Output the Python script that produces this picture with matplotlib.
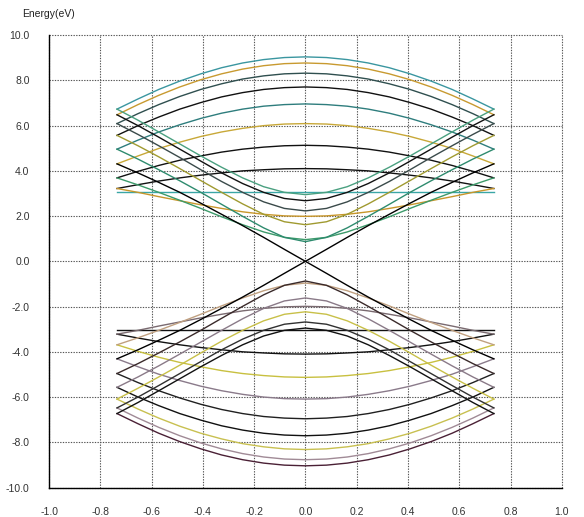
import matplotlib
matplotlib.use("Agg")
import matplotlib.pyplot as plt
import numpy as np

plt.rcParams['font.family'] = ['Liberation Sans', 'DejaVu Sans']
plt.rcParams['axes.unicode_minus'] = False

# wave-vector samples (half zone, mirrored for negative k)
K_HALF = [0.0, 0.082, 0.163, 0.245, 0.327, 0.408, 0.49, 0.572, 0.653, 0.735]

# conduction-band energies (eV) read at K_HALF, bands p = 1..17
BAND_01 = [9.04, 9.01, 8.92, 8.77, 8.56, 8.29, 7.97, 7.60, 7.18, 6.73]
BAND_02 = [8.77, 8.74, 8.65, 8.50, 8.29, 8.03, 7.71, 7.34, 6.93, 6.48]
BAND_03 = [8.32, 8.29, 8.20, 8.06, 7.85, 7.60, 7.29, 6.93, 6.53, 6.09]
BAND_04 = [7.71, 7.68, 7.60, 7.46, 7.27, 7.02, 6.73, 6.38, 6.00, 5.57]
BAND_05 = [6.96, 6.93, 6.86, 6.73, 6.55, 6.32, 6.04, 5.72, 5.36, 4.96]
BAND_06 = [6.09, 6.07, 6.00, 5.88, 5.72, 5.52, 5.27, 4.99, 4.66, 4.31]
BAND_07 = [5.13, 5.11, 5.05, 4.96, 4.83, 4.66, 4.47, 4.24, 3.98, 3.69]
BAND_08 = [4.10, 4.09, 4.05, 4.00, 3.91, 3.81, 3.69, 3.55, 3.39, 3.22]
BAND_09 = [3.05, 3.05, 3.05, 3.05, 3.05, 3.05, 3.05, 3.05, 3.05, 3.05]
BAND_10 = [1.99, 2.01, 2.08, 2.19, 2.34, 2.50, 2.68, 2.86, 3.05, 3.22]
BAND_11 = [0.96, 1.06, 1.30, 1.62, 1.97, 2.34, 2.70, 3.05, 3.38, 3.69]
BAND_12 = [0.00, 0.53, 1.06, 1.58, 2.08, 2.57, 3.05, 3.49, 3.91, 4.31]
BAND_13 = [0.87, 1.06, 1.48, 1.99, 2.52, 3.05, 3.56, 4.05, 4.52, 4.96]
BAND_14 = [1.62, 1.75, 2.08, 2.54, 3.05, 3.57, 4.10, 4.62, 5.11, 5.57]
BAND_15 = [2.23, 2.34, 2.63, 3.05, 3.53, 4.05, 4.59, 5.11, 5.61, 6.09]
BAND_16 = [2.68, 2.78, 3.05, 3.44, 3.91, 4.43, 4.96, 5.49, 6.00, 6.48]
BAND_17 = [2.95, 3.05, 3.30, 3.69, 4.16, 4.66, 5.19, 5.72, 6.24, 6.73]

BANDS = [BAND_01, BAND_02, BAND_03, BAND_04, BAND_05, BAND_06, BAND_07, BAND_08,
         BAND_09, BAND_10, BAND_11, BAND_12, BAND_13, BAND_14, BAND_15, BAND_16, BAND_17]

COND_COLORS = ['#3a96a0', '#c89a30', '#2f4f4f', '#111111', '#2e7d7d', '#c8a838',
               '#111111', '#111111', '#3aa6a6', '#c8962a', '#3c9a6a', '#000000',
               '#2e8b6e', '#a09a30', '#3a4a4a', '#111111', '#4aa080']
VAL_COLORS = ['#4a2035', '#a08a96', '#c8c050', '#111111', '#202020', '#8a7a8a',
              '#c8c040', '#111111', '#111111', '#7a6a70', '#c0a080', '#000000',
              '#3a2a2a', '#8a7a88', '#c8c048', '#303030', '#111111']

X_TICKS = [-1.0, -0.8, -0.6, -0.4, -0.2, 0.0, 0.2, 0.4, 0.6, 0.8, 1.0]
Y_TICKS = [-10.0, -8.0, -6.0, -4.0, -2.0, 0.0, 2.0, 4.0, 6.0, 8.0, 10.0]

fig = plt.figure(figsize=(5.84, 5.17), dpi=100)
ax = fig.add_axes([0.084, 0.057, 0.878, 0.875])

k_full = np.concatenate([-np.array(K_HALF[::-1]), np.array(K_HALF[1:])])
for band, cc, vc in zip(BANDS, COND_COLORS, VAL_COLORS):
    b = np.array(band)
    e_full = np.concatenate([b[::-1], b[1:]])
    ax.plot(k_full, -e_full, color=vc, lw=1.0, zorder=3)
    ax.plot(k_full, e_full, color=cc, lw=1.0, zorder=3)

ax.set_xlim(-1.0, 1.0)
ax.set_ylim(-10.0, 10.0)
ax.set_xticks(X_TICKS)
ax.set_yticks(Y_TICKS)
ax.set_xticklabels(['%.1f' % v for v in X_TICKS])
ax.set_yticklabels(['%.1f' % v for v in Y_TICKS])
ax.tick_params(length=0, labelsize=7.5, colors='#333333')
ax.tick_params(axis='y', pad=14)
ax.tick_params(axis='x', pad=14)
ax.grid(True, linestyle=(0, (1.2, 1.2)), color='#555555', lw=0.8)
for s in ['top', 'right']:
    ax.spines[s].set_visible(False)
ax.spines['left'].set_color('black')
ax.spines['bottom'].set_color('black')
ax.spines['left'].set_linewidth(1.0)
ax.spines['bottom'].set_linewidth(1.0)
for gl in ax.get_xgridlines() + ax.get_ygridlines():
    gl.set_clip_on(False)

fig.text(0.038, 0.972, 'Energy(eV)', fontsize=7.5, color='#222222', ha='left', va='center')

fig.savefig('out.png', dpi=100)
